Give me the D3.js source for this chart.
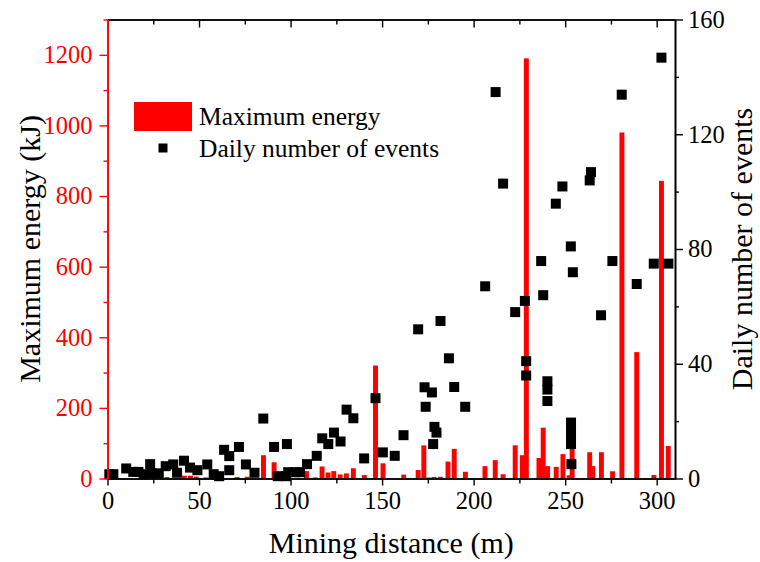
<!DOCTYPE html>
<html>
<head>
<meta charset="utf-8">
<script src="https://cdn.jsdelivr.net/npm/d3@7"></script>
<style>
  html, body { margin: 0; padding: 0; background: #fff; }
  svg text { font-family: "Liberation Serif", "Times New Roman", Times, "DejaVu Serif", serif !important; }
</style>
</head>
<body>
<svg id="chart" width="760" height="562"></svg>
<script>
// Maximum energy per day (bars, left axis)
const barDistance = [32.4, 42.0, 45.3, 48.5, 53.7, 70.8, 76.3, 85.2, 91.0, 108.7, 113.5, 117.2, 120.5, 123.6,
  127.1, 130.5, 134.3, 140.3, 146.4, 150.5, 161.8, 169.7, 172.8, 175.5, 178.4, 181.8, 186.0, 189.4, 195.5,
  206.2, 211.8, 216.1, 222.7, 226.6, 228.8, 235.7, 238.0, 240.4, 245.1, 248.8, 252.2, 253.8, 263.4, 265.1,
  269.8, 275.9, 281.0, 289.1, 298.5, 302.6, 306.3];
const maxEnergy = [4, 8, 8, 5.5, 3, 4, 5, 66, 46, 21, 3, 34, 17, 21,
  11.5, 14.5, 29, 9.7, 320, 43, 11, 24, 94, 3, 4.5, 5, 48, 84, 19,
  35, 52, 12, 94, 66, 1190, 58, 144, 35, 33, 69, 9, 85, 74.5, 35,
  74.5, 20.5, 980, 358, 10, 843, 92];

// Daily number of events (squares, right axis)
const eventDistance = [1.0, 3.2, 10.2, 14.1, 16.9, 19.7, 23.3, 24.2, 28.0, 31.8, 35.9, 38.0, 41.8, 45.1, 49.1,
  54.5, 58.0, 61.0, 63.7, 66.5, 66.5, 71.8, 75.6, 80.3, 85.1, 91.0, 93.0, 97.5, 98.0, 98.7, 102.4, 105.2,
  109.0, 114.3, 117.3, 120.6, 123.7, 127.3, 130.6, 134.3, 140.2, 146.4, 150.4, 156.9, 161.7, 169.7, 173.2,
  173.8, 177.2, 177.9, 178.6, 179.7, 181.9, 186.5, 189.4, 195.4, 206.3, 212.0, 216.1, 222.7, 228.0, 228.7,
  228.7, 236.9, 238.0, 240.3, 240.3, 240.3, 244.9, 248.5, 253.1, 253.2, 253.2, 253.2, 253.2, 253.4, 254.2,
  263.4, 264.1, 269.6, 275.8, 280.9, 289.1, 298.4, 302.6, 306.4];
const dailyEvents = [1.5, 1.5, 3.5, 2.3, 2.3, 1.5, 5.0, 1.8, 1.8, 4.3, 4.9, 2.0, 6.2, 3.8, 2.9,
  4.9, 1.5, 0.8, 10.0, 7.8, 2.9, 11.0, 4.9, 2.0, 20.9, 11.0, 0.8, 0.8, 12.0, 2.2, 2.2, 2.2,
  5.0, 7.9, 14.0, 12.0, 16.0, 12.9, 24.0, 21.0, 7.0, 28.0, 9.1, 7.9, 15.1, 52.0, 31.8,
  25.0, 30.0, 12.0, 18.0, 16.0, 54.9, 41.9, 31.9, 25.0, 67.0, 134.7, 102.8, 58.0, 61.9, 40.9,
  35.9, 75.8, 63.9, 33.9, 31.0, 27.0, 95.8, 101.8, 80.9, 19.5, 17.0, 14.5, 12.0, 5.0, 71.9,
  103.9, 106.8, 56.9, 75.8, 133.8, 67.8, 74.9, 146.7, 74.9];

const xTicks = [0, 50, 100, 150, 200, 250, 300];
const energyTicks = [0, 200, 400, 600, 800, 1000, 1200];
const eventTicks = [0, 40, 80, 120, 160];
const legendLabels = ["Maximum energy", "Daily number of events"];

const RED = "#ff0000";
const svg = d3.select("#chart");
const plotL = 107.5, plotR = 675, plotT = 19.5, plotB = 478.5;

const x = d3.scaleLinear().domain([0, 310]).range([plotL, plotR]);
const yE = d3.scaleLinear().domain([0, 1300]).range([plotB, plotT]);
const yN = d3.scaleLinear().domain([0, 160]).range([plotB, plotT]);

const barHalf = 1.35;   // bar half-width in metres
const sq = 10;          // square marker size
const fmt = d3.format("d");

// bars
svg.append("g").selectAll("rect")
  .data(barDistance.map((d, i) => ({ d, e: maxEnergy[i] })))
  .join("rect")
  .attr("x", p => x(p.d - barHalf))
  .attr("width", p => x(p.d + barHalf) - x(p.d - barHalf))
  .attr("y", p => yE(p.e))
  .attr("height", p => yE(0) - yE(p.e))
  .attr("fill", RED);

// squares
svg.append("g").selectAll("rect")
  .data(eventDistance.map((d, i) => ({ d, n: dailyEvents[i] })))
  .join("rect")
  .attr("x", p => x(p.d) - sq / 2)
  .attr("y", p => yN(p.n) - sq / 2)
  .attr("width", sq)
  .attr("height", sq)
  .attr("fill", "#000");

function styleAxis(g, color, fontSize) {
  g.attr("font-family", null);
  g.select(".domain").attr("stroke", color).attr("stroke-width", 1.6);
  g.selectAll(".tick line").attr("stroke", color).attr("stroke-width", 1.4);
  g.selectAll(".tick text").attr("fill", color).attr("font-size", fontSize);
}
const range = (a, b, s) => d3.range(a, b + 1e-9, s);

// bottom axis
const gxMinor = svg.append("g").attr("transform", `translate(0,${plotB})`)
  .call(d3.axisBottom(x).tickValues(range(25, 300, 50)).tickSize(5).tickFormat("").tickSizeOuter(0));
styleAxis(gxMinor, "#000", 24);
const gx = svg.append("g").attr("transform", `translate(0,${plotB})`)
  .call(d3.axisBottom(x).tickValues(xTicks).tickFormat(fmt).tickSize(7).tickPadding(6).tickSizeOuter(0));
styleAxis(gx, "#000", 24.5);

// top axis (inward ticks)
const gtMinor = svg.append("g").attr("transform", `translate(0,${plotT})`)
  .call(d3.axisBottom(x).tickValues(range(25, 300, 50)).tickSize(5).tickFormat("").tickSizeOuter(0));
styleAxis(gtMinor, "#000", 24);
const gt = svg.append("g").attr("transform", `translate(0,${plotT})`)
  .call(d3.axisBottom(x).tickValues(xTicks).tickSize(8).tickFormat("").tickSizeOuter(0));
styleAxis(gt, "#000", 24);

// right axis
const grMinor = svg.append("g").attr("transform", `translate(${plotR},0)`)
  .call(d3.axisRight(yN).tickValues(range(20, 140, 40)).tickSize(4).tickFormat("").tickSizeOuter(0));
styleAxis(grMinor, "#000", 24);
const gr = svg.append("g").attr("transform", `translate(${plotR},0)`)
  .call(d3.axisRight(yN).tickValues(eventTicks).tickFormat(fmt).tickSize(8).tickPadding(5).tickSizeOuter(0));
styleAxis(gr, "#000", 24.5);

// left axis (red)
const glMinor = svg.append("g").attr("transform", `translate(${plotL},0)`)
  .call(d3.axisLeft(yE).tickValues(range(100, 1300, 200)).tickSize(4).tickFormat("").tickSizeOuter(0));
styleAxis(glMinor, RED, 24);
const gl = svg.append("g").attr("transform", `translate(${plotL},0)`)
  .call(d3.axisLeft(yE).tickValues(energyTicks).tickFormat(fmt).tickSize(8).tickPadding(7).tickSizeOuter(0));
styleAxis(gl, RED, 24.5);

// axis titles
svg.append("text")
  .attr("x", (plotL + plotR) / 2).attr("y", 553)
  .attr("text-anchor", "middle").attr("font-size", 30)
  .text("Mining distance (m)");
svg.append("text")
  .attr("transform", `translate(40,${(plotT + plotB) / 2}) rotate(-90)`)
  .attr("text-anchor", "middle").attr("font-size", 30)
  .text("Maximum energy (kJ)");
svg.append("text")
  .attr("transform", `translate(752,${(plotT + plotB) / 2}) rotate(-90)`)
  .attr("text-anchor", "middle").attr("font-size", 30)
  .text("Daily number of events");

// legend
const lg = svg.append("g");
lg.append("rect").attr("x", 134).attr("y", 102).attr("width", 58).attr("height", 29).attr("fill", RED);
lg.append("text").attr("x", 199).attr("y", 125).attr("font-size", 25.5).text(legendLabels[0]);
lg.append("rect").attr("x", 158.5).attr("y", 143.5).attr("width", 9).attr("height", 9).attr("fill", "#000");
lg.append("text").attr("x", 199).attr("y", 157).attr("font-size", 25.5).text(legendLabels[1]);
</script>
</body>
</html>
